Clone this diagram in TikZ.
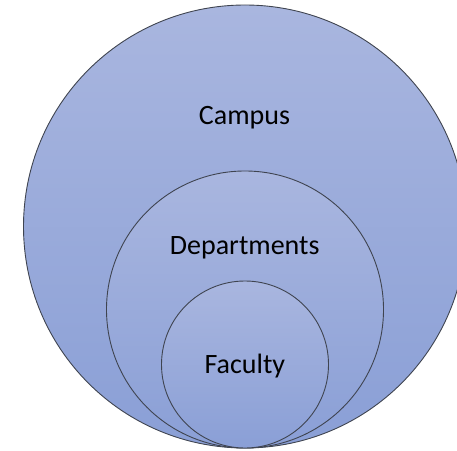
\documentclass[tikz,border=0pt]{standalone}
\usepackage{fontspec}
\setmainfont{Carlito}
\definecolor{topblue}{HTML}{A9B6DF}
\definecolor{botblue}{HTML}{8A9FD6}
\definecolor{edge}{HTML}{3F4450}
\begin{document}
\begin{tikzpicture}[x=1pt,y=1pt,
  ring/.style={circle, draw=edge, line width=0.9pt, inner sep=0pt, top color=topblue, bottom color=botblue},
  lbl/.style={anchor=base, font=\fontsize{28}{30}\selectfont, text=black}]
\useasboundingbox (0,0) rectangle (457,450);
\node[ring, minimum size=443] (campus) at (245,223.5) {};
\node[ring, minimum size=277] (dept) at (245,140.5) {};
\node[ring, minimum size=167] (fac) at (245,85.5) {};
\node[lbl] (tcampus) at (244.5,325) {Campus};
\node[lbl] (tdept) at (244.7,196) {Departments};
\node[lbl] (tfac) at (244.8,77) {Faculty};
\end{tikzpicture}
\end{document}
